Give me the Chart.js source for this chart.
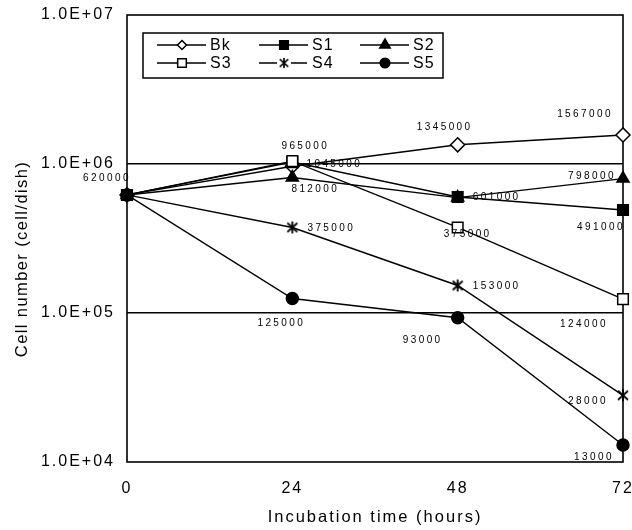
<!DOCTYPE html>
<html><head><meta charset="utf-8">
<script src="https://cdn.jsdelivr.net/npm/chart.js@4/dist/chart.umd.min.js"></script>
<style>html,body{margin:0;padding:0;background:#fff}#wrap{width:632px;height:530px;position:relative}</style>
</head><body><div id="wrap"><canvas id="c"></canvas></div>
<script>
// ---- data ----
const hours = [0, 24, 48, 72];
const seriesNames = ['Bk', 'S1', 'S2', 'S3', 'S4', 'S5'];
const bk = [620000, 965000, 1345000, 1567000];
const s1 = [620000, 1030000, 601000, 491000];
const s2 = [620000, 812000, 595000, 798000];
const s3 = [620000, 1045000, 375000, 124000];
const s4 = [620000, 375000, 153000, 28000];
const s5 = [620000, 125000, 93000, 13000];
const yTickValues = [1e4, 1e5, 1e6, 1e7];
const yTickLabels = ['1.0E+04', '1.0E+05', '1.0E+06', '1.0E+07'];
const xTickLabels = ['0', '24', '48', '72'];
const xTitle = 'Incubation time (hours)';
const yTitle = 'Cell number (cell/dish)';

// ---- styling (label offsets in px relative to the point) ----
const labelOffsets = {
  Bk: [[-20, -17], [13, -20], [-13, -18], [-38, -21]],
  S1: [null, null, [39, 0], [-22, 17]],
  S2: [null, [23, 12], null, [-31, -2]],
  S3: [null, [42, 3], [10, 7], [-39, 25]],
  S4: [null, [39, 1], [39, 1], [-35, 6]],
  S5: [null, [-11, 25], [-35, 23], [-29, 12]]
};

const asterisk = (() => {
  const c = document.createElement('canvas'); c.width = 14; c.height = 14;
  const g = c.getContext('2d'); g.strokeStyle = '#000'; g.lineWidth = 1.8;
  g.beginPath();
  g.moveTo(7, 1); g.lineTo(7, 13);
  g.moveTo(2, 2.5); g.lineTo(12, 11.5);
  g.moveTo(12, 2.5); g.lineTo(2, 11.5);
  g.stroke(); return c;
})();

const styles = {
  Bk: {pointStyle: 'rectRot', pointRadius: 7, pointBackgroundColor: '#fff'},
  S1: {pointStyle: 'rect', pointRadius: 7.5, pointBackgroundColor: '#000'},
  S2: {pointStyle: 'triangle', pointRadius: 7, pointBackgroundColor: '#000'},
  S3: {pointStyle: 'rect', pointRadius: 7.5, pointBackgroundColor: '#fff'},
  S4: {pointStyle: asterisk, pointRadius: 7, pointBackgroundColor: '#000'},
  S5: {pointStyle: 'circle', pointRadius: 6, pointBackgroundColor: '#000'}
};
const values = [bk, s1, s2, s3, s4, s5];

const datasets = seriesNames.map((name, i) => Object.assign({
  label: name,
  data: hours.map((h, j) => ({x: h, y: values[i][j]})),
  borderColor: '#000',
  borderWidth: 1.4,
  pointBorderColor: '#000',
  pointBorderWidth: 1.5,
  pointHoverRadius: 7,
  fill: false,
  tension: 0,
  clip: false,
  order: seriesNames.length - i
}, styles[name]));

function drawMarker(ctx, name, x, y, s) {
  const st = styles[name];
  ctx.save();
  ctx.fillStyle = st.pointBackgroundColor; ctx.strokeStyle = '#000'; ctx.lineWidth = 1.5;
  ctx.beginPath();
  if (st.pointStyle === 'rectRot') {
    ctx.moveTo(x, y - s); ctx.lineTo(x + s, y); ctx.lineTo(x, y + s); ctx.lineTo(x - s, y); ctx.closePath();
    ctx.fill(); ctx.stroke();
  } else if (st.pointStyle === 'rect') {
    ctx.rect(x - s * 0.72, y - s * 0.72, s * 1.44, s * 1.44); ctx.fill(); ctx.stroke();
  } else if (st.pointStyle === 'triangle') {
    ctx.moveTo(x, y - s); ctx.lineTo(x + s * 0.87, y + s * 0.5); ctx.lineTo(x - s * 0.87, y + s * 0.5); ctx.closePath();
    ctx.fill(); ctx.stroke();
  } else if (st.pointStyle === 'circle') {
    ctx.arc(x, y, s * 0.8, 0, Math.PI * 2); ctx.fill(); ctx.stroke();
  } else {
    ctx.drawImage(asterisk, x - 6, y - 6, 12, 12);
  }
  ctx.restore();
}

const framePlugin = {
  id: 'frame',
  beforeDraw(chart) {
    chart.ctx.letterSpacing = '2px';
  },
  beforeDatasetsDraw(chart) {
    const {ctx, chartArea: a} = chart;
    ctx.save();
    ctx.strokeStyle = '#000'; ctx.lineWidth = 1.6;
    ctx.strokeRect(a.left, a.top, a.right - a.left, a.bottom - a.top);
    ctx.restore();
  },
  afterDatasetsDraw(chart) {
    const {ctx, chartArea: a} = chart;
    ctx.save();
    // data labels
    ctx.font = '10px Arial, "Liberation Sans", sans-serif';
    ctx.letterSpacing = '2.4px';
    ctx.fillStyle = '#000'; ctx.textAlign = 'center'; ctx.textBaseline = 'middle';
    chart.data.datasets.forEach((ds, i) => {
      const meta = chart.getDatasetMeta(i);
      const offs = labelOffsets[ds.label];
      meta.data.forEach((pt, j) => {
        const o = offs[j];
        if (!o) return;
        ctx.fillText(String(values[i][j]), pt.x + o[0], pt.y + o[1]);
      });
    });
    // legend
    const lx = 143, ly = 33, lw = 300, lh = 45;
    ctx.fillStyle = '#fff';
    ctx.fillRect(lx, ly, lw, lh);
    ctx.strokeStyle = '#000'; ctx.lineWidth = 1.5;
    ctx.strokeRect(lx, ly, lw, lh);
    const cols = [157, 259, 360], rows = [45, 63];
    ctx.font = '16px Arial, "Liberation Sans", sans-serif';
    ctx.letterSpacing = '1px';
    ctx.textAlign = 'left'; ctx.fillStyle = '#000';
    seriesNames.forEach((name, i) => {
      const cx = cols[i % 3], cy = rows[Math.floor(i / 3)];
      ctx.beginPath(); ctx.lineWidth = 1.5;
      if (name === 'S4') {
        ctx.moveTo(cx, cy); ctx.lineTo(cx + 18, cy);
        ctx.moveTo(cx + 32, cy); ctx.lineTo(cx + 48, cy);
      } else {
        ctx.moveTo(cx, cy); ctx.lineTo(cx + 49, cy);
      }
      ctx.stroke();
      drawMarker(ctx, name, cx + 25, cy, name === 'Bk' ? 4.5 : 6);
      ctx.fillText(name, cx + 53, cy + 1);
    });
    // axis titles
    ctx.font = '16.5px Arial, "Liberation Sans", sans-serif';
    ctx.letterSpacing = '2px';
    ctx.textAlign = 'center';
    ctx.fillText(xTitle, (a.left + a.right) / 2, 517);
    ctx.save();
    ctx.translate(22, 259); ctx.rotate(-Math.PI / 2);
    ctx.letterSpacing = '1.4px';
    ctx.fillText(yTitle, 0, 0);
    ctx.restore();
    ctx.restore();
    ctx.letterSpacing = '2px';
  }
};

new Chart(document.getElementById('c'), {
  type: 'line',
  data: {datasets},
  options: {
    responsive: true,
    maintainAspectRatio: false,
    animation: false,
    layout: {padding: {top: 15, right: 9, left: 0, bottom: 0}},
    plugins: {legend: {display: false}, tooltip: {enabled: false}, title: {display: false}},
    scales: {
      x: {
        type: 'linear', min: 0, max: 72,
        afterBuildTicks: (s) => { s.ticks = hours.map(v => ({value: v})); },
        afterFit: (s) => { s.height = 68; s.paddingLeft = 0; s.paddingRight = 0; },
        ticks: {
          callback: (v) => xTickLabels[hours.indexOf(v)],
          color: '#000', font: {size: 16, family: 'Arial, "Liberation Sans", sans-serif'},
          padding: 17, maxRotation: 0, autoSkip: false
        },
        grid: {display: false, drawTicks: false},
        border: {display: false}
      },
      y: {
        type: 'logarithmic', min: 1e4, max: 1e7,
        afterBuildTicks: (s) => { s.ticks = yTickValues.map(v => ({value: v})); },
        afterFit: (s) => { s.width = 127; s.paddingTop = 0; s.paddingBottom = 0; },
        ticks: {
          callback: (v) => yTickLabels[yTickValues.indexOf(v)],
          color: '#000', font: {size: 16, family: 'Arial, "Liberation Sans", sans-serif'},
          padding: 12, autoSkip: false
        },
        grid: {
          drawTicks: false,
          color: (c) => (c.tick && (c.tick.value === 1e5 || c.tick.value === 1e6)) ? '#000' : 'rgba(0,0,0,0)',
          lineWidth: 1.6
        },
        border: {display: false}
      }
    }
  },
  plugins: [framePlugin]
});
</script>
</body></html>
